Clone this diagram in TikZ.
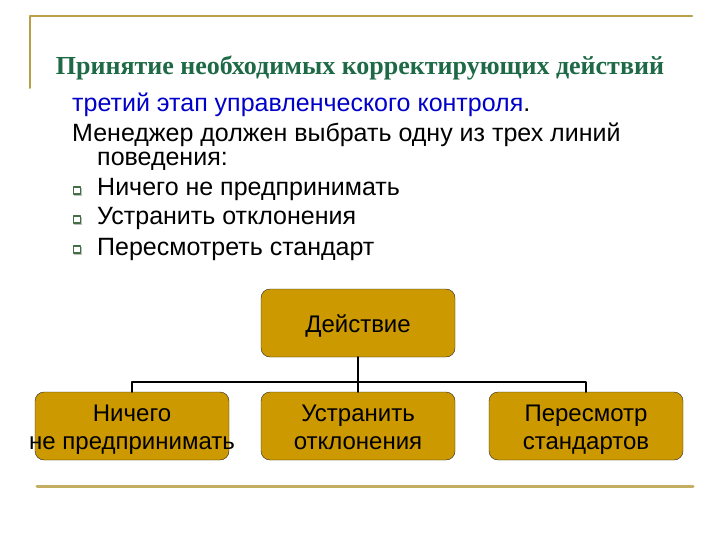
\documentclass[tikz,border=0pt]{standalone}
\usepackage{fontspec}
\setmainfont{Liberation Sans}
\newfontfamily\titlefont{Liberation Serif}
\usetikzlibrary{positioning}
\newcommand{\boxline}{\rule{0pt}{27pt}}
\begin{document}
\begin{tikzpicture}[x=1pt, y=-1pt, line cap=round, line join=round,
	box/.style={draw=black!85, fill=boxcolor, rounded corners=9pt, minimum width=194pt, minimum height=68pt, align=center, inner sep=0pt, font=\fontsize{24}{28}\selectfont},
	txt/.style={anchor=base west, inner sep=0pt, font=\fontsize{25}{29}\selectfont},
	bulletbox/.style={draw=bulletcolor, fill=white, line width=1.2pt, minimum size=7pt, inner sep=0pt}]
			\definecolor{boxcolor}{RGB}{204, 153, 0}
			\definecolor{rulecolor}{RGB}{185, 160, 70}
			\definecolor{titlecolor}{RGB}{30, 105, 70}
			\definecolor{stagecolor}{RGB}{0, 0, 200}
			\definecolor{bulletcolor}{RGB}{70, 110, 70}
			\useasboundingbox (0, 0) rectangle (720, 540);
			\draw[rulecolor, line width=2pt] (30, 88) -- (30, 16) -- (692, 16);
			\draw[rulecolor!85, line width=3pt] (37, 486) -- (693, 486);
			\node[anchor=base, inner sep=0pt, text=titlecolor, font=\titlefont\bfseries\fontsize{26}{30}\selectfont] (title) at (360, 75) {Принятие необходимых корректирующих действий};
			\node[txt, text=stagecolor] (stage) at (72, 112) {третий этап управленческого контроля\textcolor{black}{.}};
			\node[txt] (manager) at (72, 142) {Менеджер должен выбрать одну из трех линий};
			\node[txt] (manager2) at (97, 166) {поведения:};
			\node[txt] (item1) at (97, 196) {Ничего не предпринимать};
			\node[txt] (item2) at (97, 225) {Устранить отклонения};
			\node[txt] (item3) at (97, 255) {Пересмотреть стандарт};
			\foreach \y in {196, 225, 255} {
				\fill[black!25] (74, \y-8) rectangle (82, \y);
				\node[bulletbox] at (77, \y-5.5) {};
			}
			\node[box] (act) at (358, 323) {\rule{0pt}{24pt}Действие};
			\node[box] (none) at (132, 426) {\boxline Ничего\\\makebox[0pt]{\strut не предпринимать}};
			\node[box] (fix) at (358, 426) {\boxline Устранить\\\strut отклонения};
			\node[box] (revise) at (586, 426) {\boxline Пересмотр\\\strut стандартов};
			\coordinate (bus) at (358, 382);
			\draw[line width=2pt] (act.south) -- (fix.north);
			\draw[line width=2pt] (none.north) |- (bus) -| (revise.north);
		\end{tikzpicture}
\end{document}
